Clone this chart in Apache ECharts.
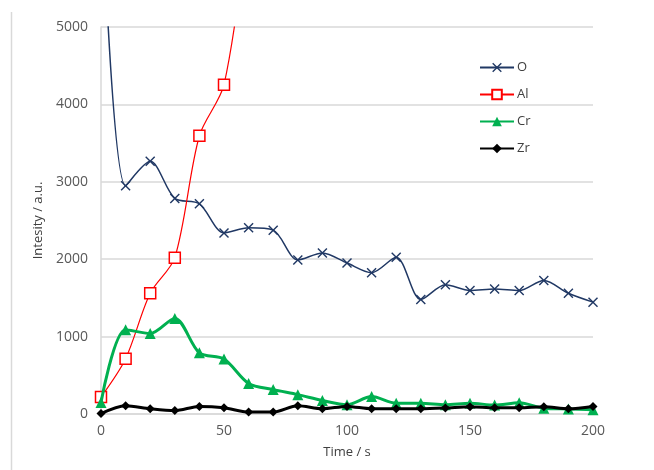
<!DOCTYPE html>
<html>
<head>
<meta charset="utf-8">
<script src="https://cdn.jsdelivr.net/npm/echarts@6/dist/echarts.min.js"></script>
<style>
  html, body { margin: 0; padding: 0; background: #ffffff; }
  #chart { width: 654px; height: 470px; }
</style>
</head>
<body>
<div id="chart"></div>
<script>
// Depth profile: intensity of each element against sputter time
var timeS = [0, 10, 20, 30, 40, 50, 60, 70, 80, 90, 100, 110, 120, 130, 140, 150, 160, 170, 180, 190, 200];
var oValues  = [7000, 2950, 3265, 2785, 2715, 2340, 2405, 2375, 1990, 2080, 1950, 1825, 2025, 1480, 1670, 1595, 1615, 1595, 1725, 1560, 1445];
var alValues = [220, 715, 1560, 2020, 3595, 4255, 6400, 9500];
var crValues = [150, 1090, 1040, 1235, 790, 710, 395, 315, 250, 175, 120, 225, 140, 140, 120, 140, 115, 145, 75, 65, 55];
var zrValues = [5, 107, 68, 45, 98, 80, 25, 25, 107, 68, 98, 68, 68, 68, 78, 95, 80, 80, 95, 68, 98];
var yTicks = { min: 0, max: 5000, step: 1000 };
var xTicks = { min: 0, max: 200, step: 50 };

function pairs(values) {
  return values.map(function (v, i) { return [timeS[i], v]; });
}

var crossPath = 'path://M0,1 L1,0 L5,4 L9,0 L10,1 L6,5 L10,9 L9,10 L5,6 L1,10 L0,9 L4,5 Z';
var font = 'Open Sans';

var chart = echarts.init(document.getElementById('chart'), null, { renderer: 'canvas' });
chart.setOption({
  animation: false,
  backgroundColor: '#ffffff',
  textStyle: { fontFamily: font },
  grid: { left: 101, right: 61, top: 27, bottom: 56 },
  legend: {
    orient: 'vertical',
    left: 474,
    top: 56,
    itemWidth: 34,
    itemHeight: 12,
    itemGap: 14,
    textStyle: { fontSize: 13, color: '#404040', fontFamily: font, padding: [0, 0, 0, -2] },
    data: ['O', 'Al', 'Cr', 'Zr']
  },
  xAxis: {
    type: 'value',
    min: xTicks.min,
    max: xTicks.max,
    interval: xTicks.step,
    name: 'Time / s',
    nameLocation: 'middle',
    nameGap: 32,
    nameTextStyle: { fontSize: 13, color: '#404040', fontFamily: font },
    axisLine: { show: true, lineStyle: { color: '#d9d9d9', width: 1.5 } },
    axisTick: { show: false },
    splitLine: { show: false },
    axisLabel: { fontSize: 14, color: '#595959', margin: 10, fontFamily: font }
  },
  yAxis: {
    type: 'value',
    min: yTicks.min,
    max: yTicks.max,
    interval: yTicks.step,
    name: 'Intesity / a.u.',
    nameLocation: 'middle',
    nameGap: 49,
    nameRotate: 90,
    nameTextStyle: { fontSize: 13, color: '#404040', fontFamily: font },
    axisLine: { show: true, lineStyle: { color: '#d9d9d9', width: 1.5 } },
    axisTick: { show: false },
    splitLine: { show: true, lineStyle: { color: '#d9d9d9', width: 1.5 } },
    axisLabel: {
      fontSize: 14, color: '#595959', margin: 13, fontFamily: font,
      formatter: function (v) { return String(v); }
    }
  },
  graphic: [{
    type: 'line',
    shape: { x1: 11.5, y1: 12, x2: 11.5, y2: 470 },
    style: { stroke: '#d9d9d9', lineWidth: 1.5 },
    silent: true
  }],
  series: [
    {
      name: 'O', type: 'line', data: pairs(oValues), smooth: 0.3, clip: true,
      symbol: crossPath, symbolSize: 10,
      lineStyle: { color: '#203864', width: 1.5 },
      itemStyle: { color: '#203864' },
      z: 3
    },
    {
      name: 'Al', type: 'line', data: pairs(alValues), smooth: 0.3, clip: true,
      symbol: 'rect', symbolSize: 11,
      lineStyle: { color: '#ff0000', width: 1.2 },
      itemStyle: { color: '#ffffff', borderColor: '#ff0000', borderWidth: 1.5 },
      z: 4
    },
    {
      name: 'Cr', type: 'line', data: pairs(crValues), smooth: 0.3, clip: true,
      symbol: 'triangle', symbolSize: 11,
      lineStyle: { color: '#00b050', width: 3 },
      itemStyle: { color: '#00b050' },
      z: 5
    },
    {
      name: 'Zr', type: 'line', data: pairs(zrValues), smooth: 0.3, clip: true,
      symbol: 'diamond', symbolSize: 9,
      lineStyle: { color: '#000000', width: 3 },
      itemStyle: { color: '#000000' },
      z: 6
    }
  ]
});
</script>
</body>
</html>
